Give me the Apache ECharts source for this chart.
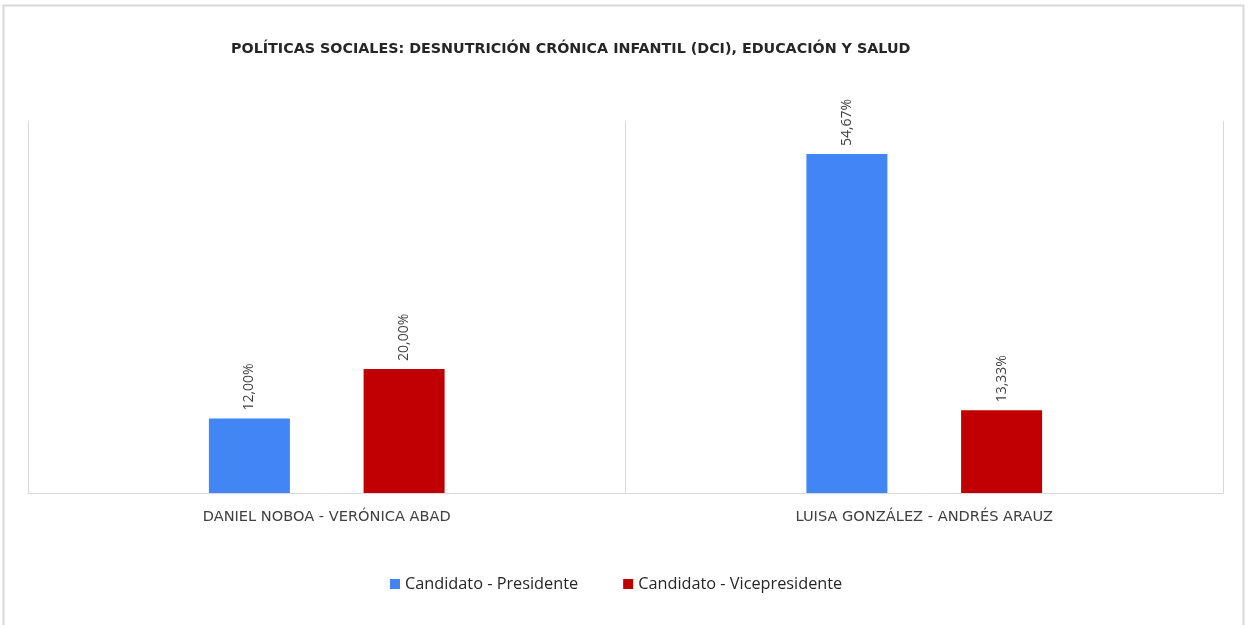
<!DOCTYPE html>
<html>
<head>
<meta charset="utf-8">
<script src="https://cdn.jsdelivr.net/npm/echarts@6/dist/echarts.min.js"></script>
<style>
html,body{margin:0;padding:0;background:#fff;}
#chart{width:1248px;height:625px;}
</style>
</head>
<body>
<div id="chart"></div>
<script>
const title = 'POLÍTICAS SOCIALES: DESNUTRICIÓN CRÓNICA INFANTIL (DCI), EDUCACIÓN Y SALUD';
const categories = ['DANIEL NOBOA - VERÓNICA ABAD', 'LUISA GONZÁLEZ - ANDRÉS ARAUZ'];
const seriesNames = ['Candidato - Presidente', 'Candidato - Vicepresidente'];
const presidente = [12.00, 54.67];
const vicepresidente = [20.00, 13.33];

const chart = echarts.init(document.getElementById('chart'));
const fmt = p => p.value.toFixed(2).replace('.', ',') + '%';
const labelCfg = {
  show: true, position: 'top', rotate: 90, distance: 8,
  align: 'left', verticalAlign: 'middle',
  formatter: fmt, color: '#404040', fontSize: 14, fontFamily: 'Open Sans'
};
chart.setOption({
  animation: false,
  backgroundColor: '#ffffff',
  graphic: [{
    type: 'rect', silent: true,
    shape: {x: 3.5, y: 5.5, width: 1240, height: 700},
    style: {fill: 'none', stroke: '#d9d9d9', lineWidth: 2}
  }],
  title: {
    text: title, left: 226, top: 37,
    textStyle: {fontFamily: 'DejaVu Sans', fontWeight: 'bold', fontSize: 14.3, color: '#262626'}
  },
  legend: {
    bottom: 28, left: 385,
    itemWidth: 10, itemHeight: 10, itemGap: 45, icon: 'rect',
    textStyle: {fontFamily: 'Open Sans', fontSize: 16.3, color: '#262626'},
    data: seriesNames
  },
  grid: {left: 28, right: 25, top: 121, bottom: 132, containLabel: false},
  xAxis: {
    type: 'category', data: categories, boundaryGap: true,
    axisLine: {show: true, lineStyle: {color: '#d9d9d9', width: 1}},
    axisTick: {show: false},
    splitLine: {show: true, lineStyle: {color: '#d9d9d9', width: 1}},
    axisLabel: {color: '#404040', fontSize: 14.6, fontFamily: 'DejaVu Sans', margin: 17}
  },
  yAxis: {
    type: 'value', min: 0, max: 60,
    axisLine: {show: false}, axisTick: {show: false},
    axisLabel: {show: false}, splitLine: {show: false}
  },
  series: [
    {name: seriesNames[0], type: 'bar', data: presidente, barWidth: 81, barGap: '91%',
     itemStyle: {color: '#4285f4'}, label: labelCfg},
    {name: seriesNames[1], type: 'bar', data: vicepresidente, barWidth: 81, barGap: '91%',
     itemStyle: {color: '#c00000'}, label: labelCfg}
  ]
});
</script>
</body>
</html>
